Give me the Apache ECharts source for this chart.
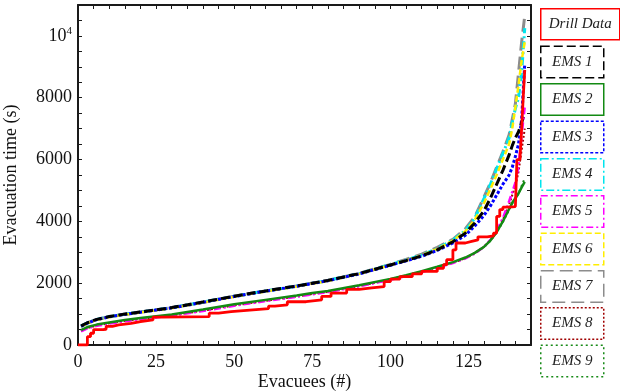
<!DOCTYPE html>
<html><head><meta charset="utf-8">
<script src="https://cdn.jsdelivr.net/npm/echarts@6/dist/echarts.min.js"></script>
<style>html,body{margin:0;padding:0;background:#fff}#c{width:620px;height:392px}</style>
</head><body><div id="c"></div>
<script>
// Shared evacuee positions for simulated curves
const evacuees = [1, 3, 6, 10, 15, 20, 25, 30, 40, 50, 60, 70, 75, 80, 90, 100, 105, 110, 115, 120, 124, 127, 130, 132, 134, 136, 138, 139, 140, 141, 142, 143];
const ems1 = [620, 720, 830, 920, 1000, 1070, 1140, 1210, 1390, 1580, 1750, 1910, 2000, 2090, 2310, 2590, 2730, 2880, 3080, 3340, 3620, 3950, 4350, 4750, 5200, 5650, 6150, 6450, 6700, 6900, 7200, 7500];
const ems2 = [480, 580, 660, 730, 810, 870, 930, 990, 1150, 1320, 1460, 1600, 1680, 1750, 1930, 2140, 2260, 2390, 2530, 2680, 2830, 2980, 3180, 3380, 3650, 4000, 4400, 4600, 4750, 4900, 5100, 5280];
const ems3 = [600, 710, 820, 910, 990, 1060, 1130, 1200, 1380, 1570, 1740, 1900, 1990, 2080, 2300, 2580, 2720, 2870, 3060, 3300, 3550, 3850, 4200, 4500, 4850, 5200, 5500, 5750, 6100, 6500, 7300, 9100];
const ems4 = [610, 715, 825, 915, 995, 1065, 1135, 1205, 1385, 1575, 1745, 1905, 1995, 2085, 2310, 2600, 2750, 2910, 3120, 3400, 3700, 4100, 4750, 5200, 5700, 6200, 6700, 7200, 7650, 8000, 8800, 10250];
const ems5 = [440, 540, 620, 690, 770, 830, 890, 950, 1100, 1270, 1420, 1560, 1640, 1710, 1900, 2110, 2230, 2360, 2500, 2650, 2800, 2960, 3180, 3400, 3700, 4100, 4650, 4950, 5250, 5800, 6800, 7700];
const ems6 = [590, 700, 810, 900, 980, 1050, 1120, 1190, 1370, 1560, 1730, 1890, 1980, 2070, 2300, 2590, 2740, 2900, 3110, 3380, 3680, 4050, 4600, 5050, 5500, 6000, 6500, 7000, 7700, 8400, 9200, 9800];
const ems7 = [615, 718, 828, 918, 998, 1068, 1138, 1208, 1388, 1578, 1750, 1912, 2003, 2095, 2320, 2610, 2770, 2940, 3160, 3420, 3760, 4150, 4800, 5250, 5750, 6250, 6800, 7300, 7800, 8800, 9800, 10650];
const ems8 = [450, 550, 630, 700, 780, 840, 900, 960, 1110, 1280, 1430, 1570, 1650, 1720, 1910, 2120, 2240, 2370, 2510, 2660, 2810, 2970, 3180, 3390, 3680, 4050, 4550, 4850, 5150, 5600, 6300, 7000];
const ems9 = [460, 560, 640, 710, 790, 850, 910, 970, 1120, 1290, 1440, 1580, 1660, 1730, 1915, 2125, 2245, 2375, 2515, 2665, 2815, 2970, 3170, 3370, 3640, 3980, 4380, 4580, 4740, 4900, 5150, 5400];
// Drill data: step curve
const drillX = [0, 3, 4, 5, 8, 9, 11, 13, 17, 20, 24, 27, 42, 45, 49, 55, 61, 63, 67, 73, 78, 81, 86, 90, 94, 98, 100, 103, 107, 110, 115, 117, 118, 120, 121, 124, 126, 128, 131, 133, 134, 135, 136, 138, 140, 140.5, 141.5, 142, 142.5, 143];
const drillY = [0, 270, 380, 500, 510, 600, 650, 700, 760, 810, 900, 920, 1030, 1080, 1130, 1180, 1260, 1300, 1400, 1460, 1570, 1680, 1800, 1850, 1890, 2050, 2130, 2210, 2300, 2380, 2480, 2600, 2760, 3080, 3300, 3350, 3400, 3500, 3530, 3620, 4160, 4380, 4460, 4480, 4540, 6000, 6100, 7000, 8000, 8900];
const legendNames = ['Drill Data', 'EMS 1', 'EMS 2', 'EMS 3', 'EMS 4', 'EMS 5', 'EMS 6', 'EMS 7', 'EMS 8', 'EMS 9'];
const xTickLabels = [0, 25, 50, 75, 100, 125];
const yTickLabels = [0, 2000, 4000, 6000, 8000, 10000];

const styles = {
  'Drill Data': {color: '#ff0000', type: 'solid', width: 2.5},
  'EMS 1': {color: '#000000', type: [9, 4], width: 3},
  'EMS 2': {color: '#138a13', type: 'solid', width: 2.5},
  'EMS 3': {color: '#0000ff', type: [3, 2], width: 3},
  'EMS 4': {color: '#00e5ee', type: [8, 3, 2, 3], width: 3},
  'EMS 5': {color: '#ff00ff', type: [7, 3, 2, 3], width: 2.5},
  'EMS 6': {color: '#ffee00', type: [6, 3], width: 2.5},
  'EMS 7': {color: '#8c8c8c', type: [13, 6], width: 3},
  'EMS 8': {color: '#a00000', type: [2, 2], width: 2},
  'EMS 9': {color: '#178a17', type: [2, 3], width: 2}
};
const emsData = {'EMS 1': ems1, 'EMS 2': ems2, 'EMS 3': ems3, 'EMS 4': ems4, 'EMS 5': ems5, 'EMS 6': ems6, 'EMS 7': ems7, 'EMS 8': ems8, 'EMS 9': ems9};
const drawOrder = ['EMS 7', 'EMS 4', 'EMS 6', 'EMS 3', 'EMS 1', 'EMS 9', 'EMS 8', 'EMS 5', 'EMS 2'];

const series = drawOrder.map(n => ({
  name: n, type: 'line', symbol: 'none', smooth: false, animation: false,
  data: evacuees.map((x, i) => [x, emsData[n][i]]),
  lineStyle: {color: styles[n].color, type: styles[n].type, width: styles[n].width}
}));
series.push({
  name: 'Drill Data', type: 'line', symbol: 'none', step: 'end', animation: false,
  data: drillX.map((x, i) => [x, drillY[i]]),
  lineStyle: {color: styles['Drill Data'].color, width: 2.8}
});

const FONT = 'Liberation Serif';
const axisCommon = {
  axisLine: {onZero: false, lineStyle: {color: '#1a1a1a', width: 2}},
  axisTick: {inside: true, length: 4, lineStyle: {color: '#1a1a1a', width: 1}},
  splitLine: {show: false}
};

// legend boxes built as graphics
const legendTop = [8, 45.5, 83, 120.5, 158, 195, 232.5, 270, 307, 344.5];
const graphics = legendNames.map((n, i) => {
  const w = i === 0 ? 79 : 63;
  const h = i === 0 ? 31 : 31.5;
  const st = styles[n];
  let dash = st.type === 'solid' ? null : st.type;
  return {
    type: 'group', left: 540, top: legendTop[i],
    children: [
      {type: 'rect', shape: {x: 0, y: 0, width: w, height: h},
       style: {fill: '#fff', stroke: st.color, lineWidth: 1.5, lineDash: dash}},
      {type: 'text', style: {x: w / 2, y: h / 2, text: n, align: 'center', verticalAlign: 'middle',
        font: 'italic 15px "' + FONT + '"', fill: '#222'}}
    ]
  };
});

const chart = echarts.init(document.getElementById('c'), null, {renderer: 'canvas'});
chart.setOption({
  backgroundColor: '#fff',
  animation: false,
  grid: {left: 78, right: 89, top: 5, bottom: 47, containLabel: false, outerBoundsMode: 'none'},
  xAxis: [
    Object.assign({}, axisCommon, {
      type: 'value', min: 0, max: 145, interval: 5, position: 'bottom',
      name: 'Evacuees (#)', nameLocation: 'middle', nameGap: 28, nameMoveOverlap: false,
      nameTextStyle: {fontFamily: FONT, fontSize: 18, color: '#111'},
      axisLabel: {margin: 8, fontFamily: FONT, fontSize: 18, color: '#111',
        formatter: v => xTickLabels.includes(v) ? String(v) : ''}
    }),
    Object.assign({}, axisCommon, {
      type: 'value', min: 0, max: 145, interval: 5, position: 'top', axisLabel: {show: false}
    })
  ],
  yAxis: [
    Object.assign({}, axisCommon, {
      type: 'value', min: 0, max: 11000, interval: 500, position: 'left',
      name: 'Evacuation time (s)', nameLocation: 'middle', nameGap: 58, nameRotate: 90, nameMoveOverlap: false,
      nameTextStyle: {fontFamily: FONT, fontSize: 18, color: '#111'},
      axisLabel: {margin: 6, fontFamily: FONT, fontSize: 18, color: '#111',
        formatter: v => v === 10000 ? '{b|10}{s|4}' : (yTickLabels.includes(v) ? String(v) : ''),
        rich: {b: {fontFamily: FONT, fontSize: 18, color: '#111'},
               s: {fontFamily: FONT, fontSize: 11, color: '#111', padding: [0, 0, 9, 0]}}}
    }),
    Object.assign({}, axisCommon, {
      type: 'value', min: 0, max: 11000, interval: 500, position: 'right', axisLabel: {show: false}
    })
  ],
  series: series,
  graphic: graphics
});
</script></body></html>
